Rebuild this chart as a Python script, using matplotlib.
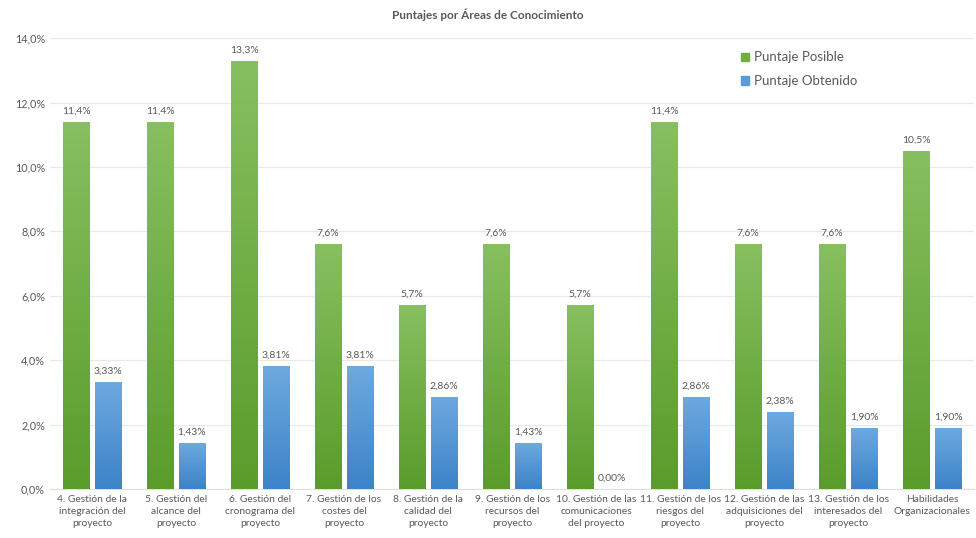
import matplotlib
matplotlib.use("Agg")
import matplotlib.pyplot as plt
import numpy as np
from matplotlib.colors import LinearSegmentedColormap
from matplotlib.patches import Patch

# data
categorias = [
    "4. Gestión de la\nintegración del\nproyecto",
    "5. Gestión del\nalcance del\nproyecto",
    "6. Gestión del\ncronograma del\nproyecto",
    "7. Gestión de los\ncostes del\nproyecto",
    "8. Gestión de la\ncalidad del\nproyecto",
    "9. Gestión de los\nrecursos del\nproyecto",
    "10. Gestión de las\ncomunicaciones\ndel proyecto",
    "11. Gestión de los\nriesgos del\nproyecto",
    "12. Gestión de las\nadquisiciones del\nproyecto",
    "13. Gestión de los\ninteresados del\nproyecto",
    "Habilidades\nOrganizacionales",
]
puntaje_posible = [11.4, 11.4, 13.3, 7.6, 5.7, 7.6, 5.7, 11.4, 7.6, 7.6, 10.5]
puntaje_obtenido = [3.33, 1.43, 3.81, 3.81, 2.86, 1.43, 0.00, 2.86, 2.38, 1.90, 1.90]
yticks = [0, 2, 4, 6, 8, 10, 12, 14]

plt.rcParams['font.family'] = ['Lato', 'DejaVu Sans']
gris = '#595959'

fig = plt.figure(figsize=(9.76, 5.38), dpi=100)
ax = fig.add_axes([0.0512, 0.091, 0.947, 0.838])

x = np.arange(len(categorias))
w = 0.31
off = 0.19

verde = LinearSegmentedColormap.from_list('v', ['#5a9c2c', '#88bf60'])
azul = LinearSegmentedColormap.from_list('a', ['#3c83c9', '#6ea9df'])

b1 = ax.bar(x - off, puntaje_posible, w, color='#70ad47', zorder=2)
b2 = ax.bar(x + off, puntaje_obtenido, w, color='#5b9bd5', zorder=2)

grad = np.linspace(0, 1, 100).reshape(-1, 1)
for bars, cmap in ((b1, verde), (b2, azul)):
    for r in bars:
        h = r.get_height()
        if h <= 0:
            continue
        x0 = r.get_x()
        im = ax.imshow(grad, cmap=cmap, origin='lower', aspect='auto',
                       extent=[x0, x0 + r.get_width(), 0, h], zorder=3)
        im.set_clip_path(r)

for r, v in zip(b1, puntaje_posible):
    ax.text(r.get_x() + r.get_width() / 2, v + 0.2, ('%.1f%%' % v).replace('.', ','),
            ha='center', va='bottom', fontsize=7.5, color=gris)
for r, v in zip(b2, puntaje_obtenido):
    ax.text(r.get_x() + r.get_width() / 2, v + 0.2, ('%.2f%%' % v).replace('.', ','),
            ha='center', va='bottom', fontsize=7.5, color=gris)

ax.set_xlim(-0.5, len(categorias) - 0.5)
ax.set_ylim(0, 14)
ax.set_yticks(yticks)
ax.set_yticklabels([('%.1f%%' % t).replace('.', ',') for t in yticks])
ax.set_xticks(x)
ax.set_xticklabels(categorias, linespacing=1.45)
ax.tick_params(axis='y', length=0, labelsize=7.8, colors=gris)
ax.tick_params(axis='x', length=0, labelsize=7.4, colors=gris, pad=4)
ax.grid(axis='y', color='#e9e9e9', linewidth=0.9, zorder=0)
ax.set_axisbelow(True)
for s in ('top', 'right', 'left'):
    ax.spines[s].set_visible(False)
ax.spines['bottom'].set_color('#e0e0e0')

fig.text(0.5, 0.972, 'Puntajes por Áreas de Conocimiento', ha='center', va='center',
         fontsize=8.5, fontweight='bold', color=gris)

handles = [Patch(color='#70ad47', label='Puntaje Posible'),
           Patch(color='#5b9bd5', label='Puntaje Obtenido')]
leg = ax.legend(handles=handles, loc='upper left', bbox_to_anchor=(0.735, 0.997),
                frameon=False, fontsize=9.5, handlelength=0.6, handleheight=0.6,
                handletextpad=0.4, labelspacing=0.9)
for t in leg.get_texts():
    t.set_color(gris)

fig.savefig('out.png', dpi=100)
